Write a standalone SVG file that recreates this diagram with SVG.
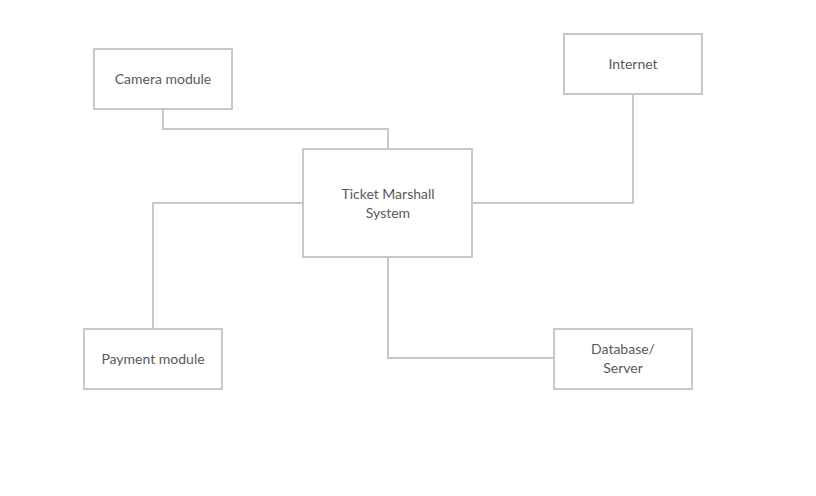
<svg xmlns="http://www.w3.org/2000/svg" width="816" height="496" viewBox="0 0 816 496">
<style>
.box{fill:#ffffff;stroke:#c8c8c8;stroke-width:2}
.con{fill:none;stroke:#c8c8c8;stroke-width:2}
.lbl{font-family:Lato,"Liberation Sans",sans-serif;font-size:14px;fill:#595959;text-anchor:middle}
</style>
<rect width="816" height="496" fill="#ffffff"/>
<g id="connectors">
<polyline class="con" points="163,109 163,129 388,129 388,149"/>
<polyline class="con" points="303,203 153,203 153,329"/>
<polyline class="con" points="633,94 633,203 472,203"/>
<polyline class="con" points="388,257 388,358 554,358"/>
</g>
<g id="camera">
<rect class="box" x="94" y="49" width="138" height="60"/>
<text class="lbl" x="163" y="83.5">Camera module</text>
</g>
<g id="internet">
<rect class="box" x="564" y="34" width="138" height="60"/>
<text class="lbl" x="633" y="68.5">Internet</text>
</g>
<g id="ticket">
<rect class="box" x="303" y="149" width="169" height="108"/>
<text class="lbl" x="388" y="198.5">Ticket Marshall</text>
<text class="lbl" x="388" y="217.5">System</text>
</g>
<g id="payment">
<rect class="box" x="84" y="329" width="138" height="60"/>
<text class="lbl" x="153" y="363.5">Payment module</text>
</g>
<g id="database">
<rect class="box" x="554" y="329" width="138" height="60"/>
<text class="lbl" x="623" y="353.5">Database/</text>
<text class="lbl" x="623" y="372.5">Server</text>
</g>
</svg>
